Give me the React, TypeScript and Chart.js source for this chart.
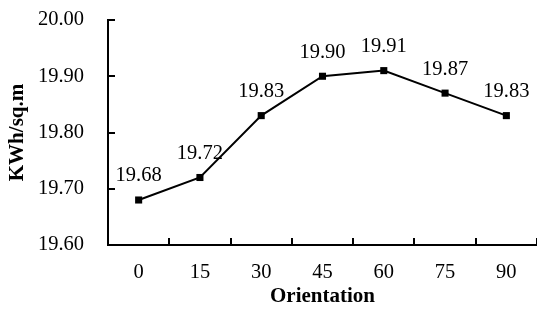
import React, { useEffect, useRef } from "react";
import { Chart, registerables } from "chart.js";

Chart.register(...registerables);

const categories = ["0", "15", "30", "45", "60", "75", "90"];
const values = [19.68, 19.72, 19.83, 19.9, 19.91, 19.87, 19.83];
const valueLabels = ["19.68", "19.72", "19.83", "19.90", "19.91", "19.87", "19.83"];
const yTicks = [19.6, 19.7, 19.8, 19.9, 20.0];

const FONT = "'Liberation Serif', 'Times New Roman', serif";

export default function App() {
  const ref = useRef<HTMLCanvasElement | null>(null);

  useEffect(() => {
    if (!ref.current) return;
    const labelPlugin = {
      id: "labelsAndTicks",
      afterDatasetsDraw(chart: any) {
        const ctx = chart.ctx;
        const meta = chart.getDatasetMeta(0);
        ctx.save();
        ctx.fillStyle = "#000";
        ctx.font = `20.5px ${FONT}`;
        ctx.textAlign = "center";
        ctx.textBaseline = "middle";
        meta.data.forEach((pt: any, i: number) => {
          ctx.fillText(valueLabels[i], pt.x, pt.y - 24);
        });
        ctx.restore();
      },
      afterDraw(chart: any) {
        const ctx = chart.ctx;
        const area = chart.chartArea;
        const ys = chart.scales.y;
        ctx.save();
        ctx.strokeStyle = "#000";
        ctx.lineWidth = 2;
        ctx.beginPath();
        yTicks.forEach((v) => {
          const y = Math.round(ys.getPixelForValue(v));
          ctx.moveTo(area.left, y);
          ctx.lineTo(area.left + 7, y);
        });
        const n = categories.length;
        const w = (area.right - area.left) / n;
        for (let i = 1; i <= n; i++) {
          const x = Math.round(area.left + i * w);
          ctx.moveTo(x, area.bottom);
          ctx.lineTo(x, area.bottom - 7);
        }
        ctx.stroke();
        ctx.restore();
      },
    };

    const chart = new Chart(ref.current, {
      type: "line",
      data: {
        labels: categories,
        datasets: [
          {
            data: values,
            borderColor: "#000",
            backgroundColor: "#000",
            borderWidth: 2,
            pointStyle: "rect",
            pointRadius: 5,
            pointBorderWidth: 0,
            tension: 0,
          },
        ],
      },
      options: {
        responsive: false,
        animation: false,
        devicePixelRatio: 1,
        layout: { autoPadding: false, padding: { top: 20, right: 0, left: 0, bottom: 0 } },
        plugins: { legend: { display: false }, tooltip: { enabled: false } },
        scales: {
          x: {
            type: "category",
            offset: true,
            grid: { display: false, drawTicks: false },
            border: { display: true, color: "#000", width: 2 },
            ticks: { color: "#000", font: { family: FONT, size: 20.5 }, padding: 15, maxRotation: 0 },
            title: {
              display: true,
              text: "Orientation",
              color: "#000",
              font: { family: FONT, size: 21, weight: "bold" },
              padding: { top: 0, bottom: 0 },
            },
            afterFit: (s: any) => {
              s.height = 64;
              s.paddingLeft = 0;
              s.paddingRight = 0;
            },
          },
          y: {
            min: 19.6,
            max: 20.0,
            grid: { display: false, drawTicks: false },
            border: { display: true, color: "#000", width: 2 },
            ticks: {
              stepSize: 0.1,
              color: "#000",
              font: { family: FONT, size: 20.5 },
              padding: 24,
              callback: (v: any) => Number(v).toFixed(2),
            },
            title: {
              display: true,
              text: "KWh/sq.m",
              color: "#000",
              font: { family: FONT, size: 21, weight: "bold" },
              padding: { top: 5, bottom: 0 },
            },
            afterFit: (s: any) => {
              s.width = 108;
              s.paddingTop = 0;
              s.paddingBottom = 0;
            },
          },
        },
      },
      plugins: [labelPlugin],
    });
    return () => chart.destroy();
  }, []);

  return (
    <div style={{ position: "absolute", left: 0, top: 0, width: 537, height: 309, background: "#fff" }}>
      <canvas ref={ref} width={537} height={309} />
    </div>
  );
}
